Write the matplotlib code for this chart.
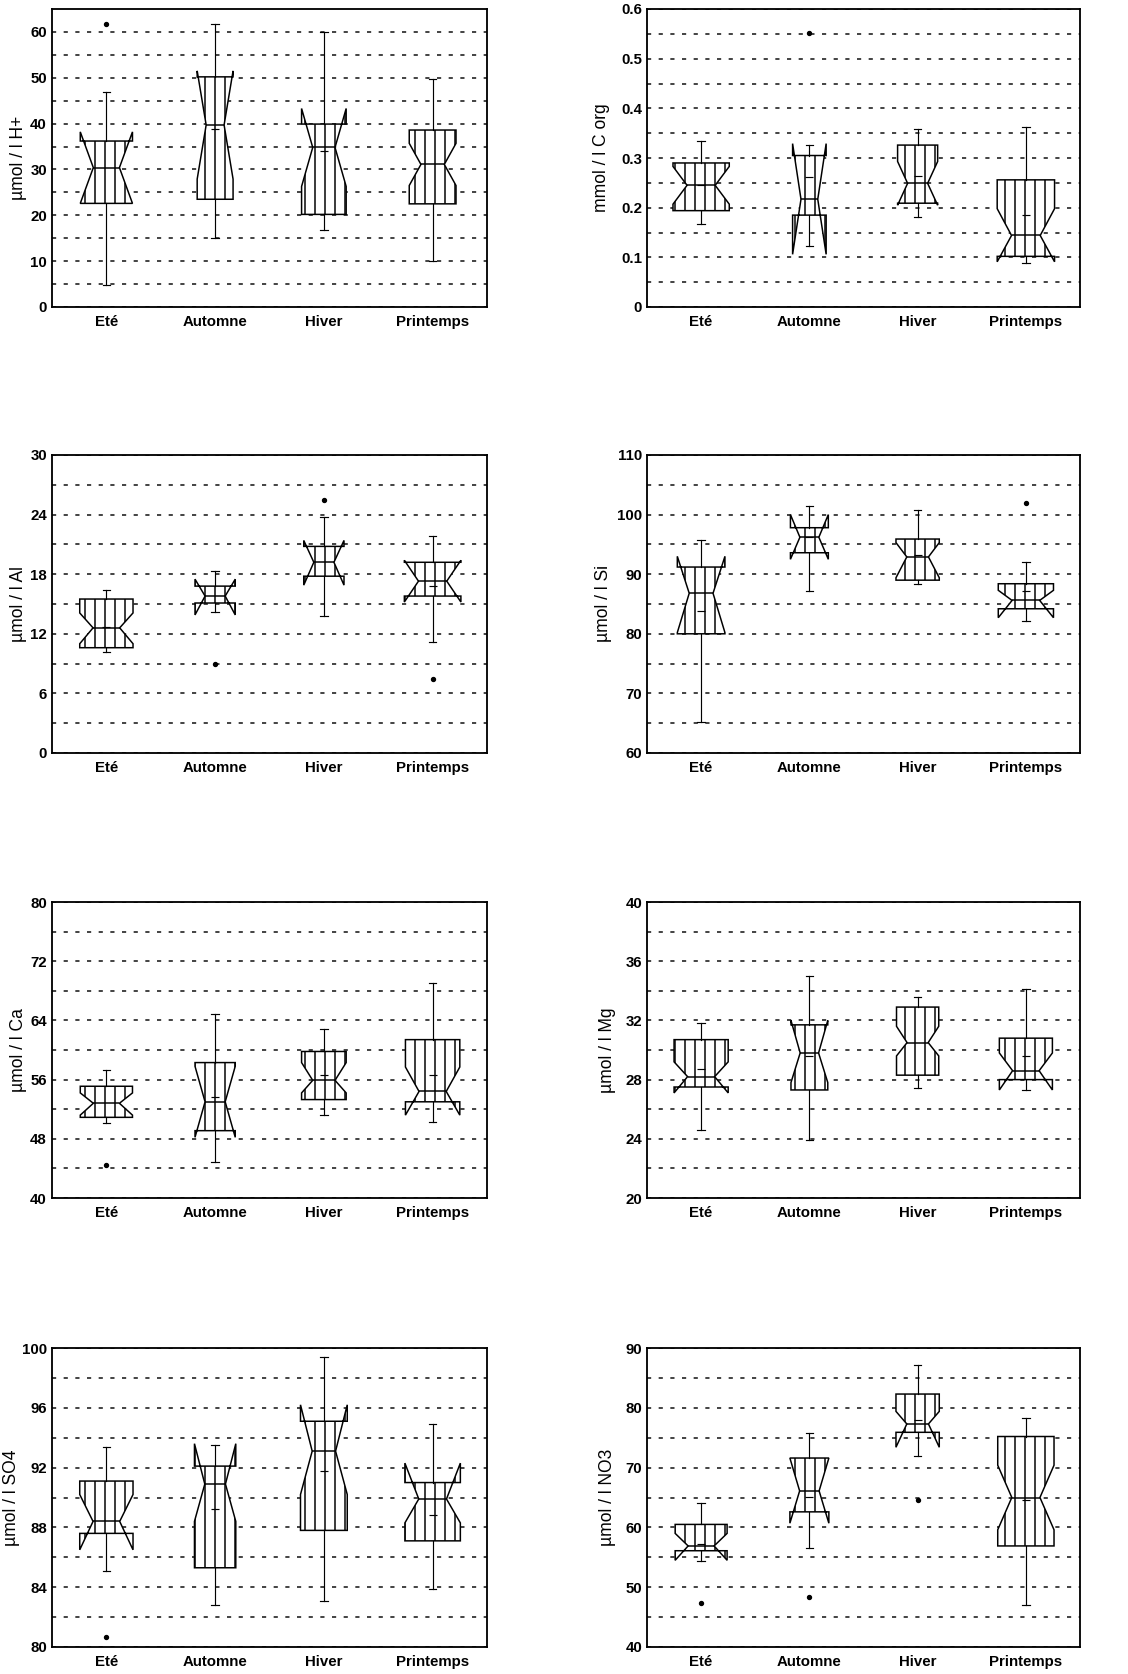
import numpy as np
import matplotlib
matplotlib.use('Agg')
import matplotlib.pyplot as plt

plt.rcParams['font.family'] = ['Liberation Sans', 'DejaVu Sans']
plt.rcParams['hatch.linewidth'] = 0.9

# Data
SEASONS = ['Eté', 'Automne', 'Hiver', 'Printemps']
YLABELS = ['µmol / l H+', 'mmol / l C org', 'µmol / l Al', 'µmol / l Si',
           'µmol / l Ca', 'µmol / l Mg', 'µmol / l SO4', 'µmol / l NO3']

MED = [[30.4, 39.7, 34.8, 31.1],
       [0.245, 0.217, 0.249, 0.144],
       [12.6, 15.8, 19.2, 17.3],
       [86.8, 96.2, 92.9, 85.6],
       [52.8, 53.0, 55.9, 54.4],
       [28.2, 29.8, 30.5, 28.6],
       [88.4, 90.9, 93.1, 89.9],
       [56.9, 66.1, 77.3, 65.0]]
Q1 = [[22.6, 23.5, 20.2, 22.5],
      [0.194, 0.185, 0.209, 0.102],
      [10.6, 15.1, 17.8, 15.8],
      [80.0, 93.6, 89.0, 84.2],
      [50.9, 49.1, 53.3, 53.0],
      [27.5, 27.3, 28.3, 28.0],
      [87.6, 85.3, 87.8, 87.1],
      [56.1, 62.6, 75.9, 56.9]]
Q3 = [[36.2, 50.2, 39.9, 38.6],
      [0.290, 0.305, 0.326, 0.256],
      [15.5, 16.8, 20.8, 19.2],
      [91.2, 97.8, 95.9, 88.4],
      [55.1, 58.3, 59.8, 61.4],
      [30.7, 31.7, 32.9, 30.8],
      [91.1, 92.1, 95.1, 91.0],
      [60.5, 71.6, 82.3, 75.2]]
NOTCH_LO = [[22.6, 27.9, 26.3, 26.5],
            [0.207, 0.106, 0.205, 0.091],
            [11.0, 13.9, 16.9, 15.2],
            [80.2, 92.5, 89.4, 82.7],
            [51.2, 48.2, 54.2, 51.2],
            [27.1, 27.8, 29.6, 27.3],
            [86.5, 88.4, 90.2, 88.3],
            [54.5, 60.7, 73.4, 59.6]]
NOTCH_HI = [[38.2, 51.5, 43.3, 35.7],
            [0.283, 0.329, 0.293, 0.198],
            [14.1, 17.5, 21.4, 19.4],
            [93.0, 100.0, 95.3, 87.3],
            [54.2, 57.8, 58.3, 57.7],
            [29.2, 32.0, 31.6, 29.8],
            [90.2, 93.6, 96.2, 92.3],
            [59.0, 71.6, 79.4, 70.4]]
WHISK_LO = [[4.7, 15.1, 16.8, 10.0],
            [0.167, 0.123, 0.182, 0.088],
            [10.2, 14.2, 13.8, 11.2],
            [65.2, 87.2, 88.3, 82.1],
            [50.1, 44.9, 51.2, 50.3],
            [24.6, 23.9, 27.4, 27.3],
            [85.1, 82.8, 83.1, 83.9],
            [54.4, 56.5, 72.0, 47.0]]
WHISK_HI = [[47.0, 61.7, 60.0, 49.8],
            [0.334, 0.326, 0.359, 0.362],
            [16.4, 18.3, 23.8, 21.8],
            [95.8, 101.4, 100.7, 92.0],
            [57.3, 64.9, 62.8, 69.0],
            [31.8, 35.0, 33.6, 34.1],
            [93.4, 93.5, 99.4, 94.9],
            [64.1, 75.8, 87.2, 78.3]]
MEANS = [[np.nan, 38.8, 34.0, np.nan],
         [0.245, 0.261, 0.263, 0.185],
         [12.7, np.nan, np.nan, 16.8],
         [83.8, 96.3, 93.3, 87.2],
         [np.nan, 53.7, 56.6, 56.6],
         [28.7, 29.6, np.nan, 29.6],
         [np.nan, 89.2, 91.8, 88.8],
         [57.3, 65.1, 78.0, 64.5]]
OUTLIERS = [[[61.8], [], [], []],
            [[], [0.551], [], []],
            [[], [9.0], [25.5], [7.5]],
            [[], [], [], [102.0]],
            [[44.4], [], [], []],
            [[], [], [], []],
            [[80.7], [], [], []],
            [[47.4], [48.4], [64.6], []]]

# Axis settings
YLIMS = [(0, 65), (0, 0.6), (0, 30), (60, 110), (40, 80), (20, 40), (80, 100), (40, 90)]
YSTEPS = [10, 0.1, 6, 10, 8, 4, 4, 10]
YFMT = ['{:.0f}', '{:g}', '{:.0f}', '{:.0f}', '{:.0f}', '{:.0f}', '{:.0f}', '{:.0f}']
BOX_WIDTHS = [[0.48, 0.33, 0.41, 0.43],
              [0.52, 0.31, 0.37, 0.53],
              [0.49, 0.37, 0.37, 0.52],
              [0.44, 0.35, 0.40, 0.51],
              [0.48, 0.37, 0.41, 0.50],
              [0.50, 0.34, 0.39, 0.49],
              [0.49, 0.38, 0.43, 0.51],
              [0.48, 0.36, 0.40, 0.52]]
LABEL_X = [19, 602, 19, 603, 19, 607, 12, 607]  # ylabel centre, pixels

W, H = 1128, 1674
fig = plt.figure(figsize=(W / 120, H / 120), dpi=120)

col_left = [52, 647]
col_width = [435, 433]
row_top = [9, 455, 902, 1348]
row_height = [298, 298, 296, 299]

positions = np.arange(1, 5)
for i in range(8):
    r, c = divmod(i, 2)
    ax = fig.add_axes([col_left[c] / W, 1 - (row_top[r] + row_height[r]) / H,
                       col_width[c] / W, row_height[r] / H])
    stats = []
    for j in range(4):
        stats.append(dict(med=MED[i][j], q1=Q1[i][j], q3=Q3[i][j],
                          cilo=NOTCH_LO[i][j], cihi=NOTCH_HI[i][j],
                          whislo=WHISK_LO[i][j], whishi=WHISK_HI[i][j],
                          mean=MEANS[i][j], fliers=np.array(OUTLIERS[i][j])))
    ax.bxp(stats, positions=positions, widths=BOX_WIDTHS[i], capwidths=0.07,
           shownotches=True, showmeans=True, patch_artist=True,
           boxprops=dict(facecolor='white', edgecolor='black', hatch='||', linewidth=0.9),
           medianprops=dict(color='black', linewidth=0.9),
           whiskerprops=dict(color='black', linewidth=0.7),
           capprops=dict(color='black', linewidth=0.7),
           flierprops=dict(marker='o', markersize=2.2, markerfacecolor='black',
                           markeredgecolor='black'),
           meanprops=dict(marker='_', markersize=5, markeredgecolor='black',
                          markeredgewidth=0.7))

    lo, hi = YLIMS[i]
    step = YSTEPS[i]
    ax.set_ylim(lo, hi)
    ax.set_xlim(0.5, 4.5)
    major = np.arange(lo, hi + step * 0.01, step)
    major = major[major <= hi + 1e-9]
    ax.set_yticks(major)
    ax.set_yticklabels([YFMT[i].format(v) for v in major])
    minor = np.arange(lo + step / 2, hi - 1e-9, step / 2)
    ax.set_yticks(minor, minor=True)
    ax.set_axisbelow(True)
    ax.yaxis.grid(True, which='both', color='#222222', linewidth=1.0,
                  linestyle=(0, (2.5, 4.5)))
    ax.set_xticks(positions)
    ax.set_xticklabels(SEASONS)
    ax.tick_params(axis='both', which='both', length=0)
    ax.tick_params(axis='x', pad=5, labelsize=9)
    ax.tick_params(axis='y', pad=3, labelsize=9)
    for lab in ax.get_xticklabels() + ax.get_yticklabels():
        lab.set_fontweight('bold')
    ax.set_ylabel(YLABELS[i], fontsize=10.5, va='center')
    ax.yaxis.set_label_coords((LABEL_X[i] - col_left[c]) / col_width[c], 0.5)
    for sp in ax.spines.values():
        sp.set_linewidth(1.1)
        sp.set_color('black')

fig.savefig('out.png', dpi=120, facecolor='white')
